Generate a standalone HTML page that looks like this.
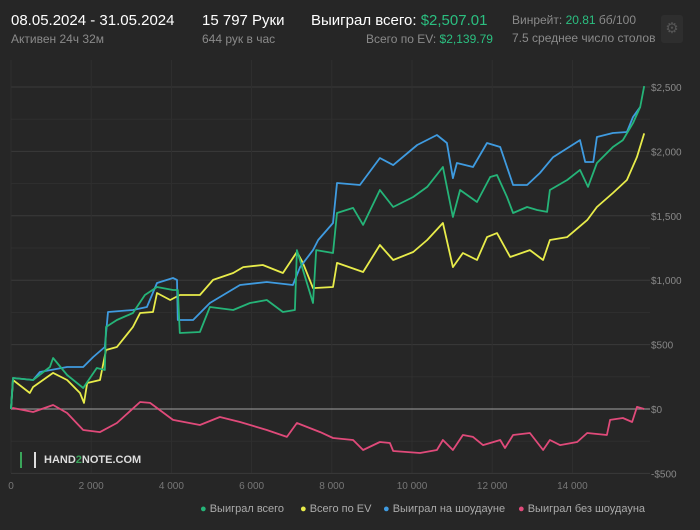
<!DOCTYPE html>
<html><head><meta charset="utf-8"><style>
body{margin:0;width:700px;height:530px;background:#262626;font-family:"Liberation Sans",sans-serif;overflow:hidden}
.t{position:absolute;white-space:nowrap}
</style></head><body>
<div style="position:absolute;left:0;top:0;width:700px;height:60px;">
<div class="t" style="left:11px;top:12px;color:#fff;font-size:15px">08.05.2024 - 31.05.2024</div>
<div class="t" style="left:11px;top:32px;color:#8a8a8a;font-size:12px">Активен 24ч 32м</div>
<div class="t" style="left:202px;top:12px;color:#fff;font-size:15px">15 797 Руки</div>
<div class="t" style="left:202px;top:32px;color:#8a8a8a;font-size:12px">644 рук в час</div>
<div class="t" style="left:311px;top:12px;color:#fff;font-size:15px">Выиграл всего: <span style="color:#2bbf80">$2,507.01</span></div>
<div class="t" style="left:366px;top:32px;color:#8a8a8a;font-size:12px">Всего по EV: <span style="color:#2bbf80">$2,139.79</span></div>
<div class="t" style="left:512px;top:13px;color:#8a8a8a;font-size:12px">Винрейт: <span style="color:#2bbf80">20.81</span> бб/100</div>
<div class="t" style="left:512px;top:31px;color:#8a8a8a;font-size:12px">7.5 среднее число столов</div>
<div style="position:absolute;left:661px;top:15px;width:22px;height:28px;background:#2e2e2e;border-radius:3px;color:#555;font-size:15px;text-align:center;line-height:28px">⚙</div>
</div>
<svg id="chart" width="700" height="530" style="position:absolute;left:0;top:0"></svg>
<div class="t" style="left:20px;top:452px;font-size:11px;font-weight:bold;color:#ddd"><span style="display:inline-block;width:12px;height:16px;border-left:2px solid #3aa55a;border-right:2px solid #ddd;vertical-align:middle;margin-right:8px"></span>HAND<span style="color:#3aa55a">2</span>NOTE.COM</div>
<div style="position:absolute;left:200px;top:503px;font-size:11px;color:#aaa">
<span class="t" style="left:0px"><span style="color:#25b478">●</span> Выиграл всего</span>
<span class="t" style="left:100px"><span style="color:#e8ec4a">●</span> Всего по EV</span>
<span class="t" style="left:183px"><span style="color:#3f9be0">●</span> Выиграл на шоудауне</span>
<span class="t" style="left:318px"><span style="color:#e04a7a">●</span> Выиграл без шоудауна</span>
</div>
<script>
const xTicks=[0,2000,4000,6000,8000,10000,12000,14000];
const yTicks=[-500,0,500,1000,1500,2000,2500];
const yTickLabels=["-$500","$0","$500","$1,000","$1,500","$2,000","$2,500"];
const greenHands=[0,50,550,970,1050,1400,1800,2140,2340,2370,2640,3040,3340,3640,4040,4160,4210,4710,4960,5540,5960,6380,6780,7080,7130,7530,7610,8030,8130,8530,8780,9200,9530,10030,10380,10770,11020,11200,11620,11950,12120,12370,12520,12870,13120,13370,13440,13870,14190,14390,14610,15010,15260,15510,15690,15790];
const greenValues=[0,241,225,326,396,264,163,318,303,637,691,745,885,947,924,924,590,598,792,769,823,846,753,769,1234,823,1234,1211,1522,1561,1429,1700,1568,1646,1724,1879,1491,1700,1607,1801,1817,1646,1522,1568,1545,1530,1700,1778,1856,1724,1910,2034,2088,2220,2345,2507];
const blueHands=[0,50,550,720,1400,1800,2050,2340,2420,3040,3390,3640,4040,4140,4160,4540,4960,5710,6380,7030,7210,7530,7660,8030,8130,8700,9200,9530,10130,10620,10870,11020,11120,11520,11870,12200,12520,12870,13190,13520,14190,14320,14520,14610,15010,15360,15510,15690];
const blueValues=[0,241,225,287,326,326,404,481,753,769,792,978,1017,1002,691,691,823,963,986,963,1102,1234,1312,1444,1755,1739,1949,1894,2050,2127,2065,1793,1910,1879,2065,2034,1739,1739,1832,1956,2088,1918,1918,2112,2143,2151,2267,2345];
const yellowHands=[0,50,470,550,1050,1400,1720,1820,1900,2220,2370,2640,3040,3220,3540,3640,3970,4210,4710,5040,5540,5790,6280,6780,7130,7280,7530,8030,8130,8780,9200,9530,10030,10380,10770,11020,11270,11620,11870,12120,12450,12940,13270,13440,13870,14370,14610,15010,15360,15610,15790];
const yellowValues=[0,225,124,171,280,225,124,47,202,225,458,481,637,745,753,901,846,885,885,1002,1056,1102,1118,1056,1219,1134,939,947,1134,1064,1273,1157,1219,1312,1444,1102,1211,1157,1335,1366,1180,1234,1157,1312,1335,1467,1568,1677,1778,1957,2140];
const redHands=[0,50,550,1050,1400,1800,2220,2640,3220,3470,4040,4710,5210,5710,6380,6880,7130,7710,8030,8530,8780,9200,9450,9530,10200,10620,10770,11020,11270,11520,11770,12200,12320,12520,12940,13270,13440,13690,14120,14370,14860,14940,15260,15490,15610,15790];
const redValues=[0,8,-23,31,-31,-163,-179,-109,54,47,-85,-124,-62,-101,-163,-217,-109,-179,-225,-241,-318,-256,-264,-326,-342,-318,-241,-318,-202,-217,-280,-241,-303,-202,-186,-318,-241,-280,-256,-186,-202,-85,-70,-101,16,0];

const NS="http://www.w3.org/2000/svg";
const svg=document.getElementById('chart');
const X0=11,XS=0.0401,Y0=409,YS=0.1288;
function sx(h){return X0+h*XS;}
function sy(v){return Y0-v*YS;}
function mk(tag,attrs){const e=document.createElementNS(NS,tag);for(const k in attrs)e.setAttribute(k,attrs[k]);svg.appendChild(e);return e;}
// minor grid
for(let v=-500;v<=2500;v+=250){
  const g=mk('line',{x1:11,x2:650,y1:sy(v),y2:sy(v),stroke:v%500===0?'#3a3a3a':'#2f2f2f','stroke-width':1});
  
  
}
xTicks.forEach(h=>{
  const g=mk('line',{x1:sx(h),x2:sx(h),y1:60,y2:473,stroke:'#2f2f2f','stroke-width':1});
  
  
  const t=mk('text',{x:sx(h),y:489,fill:'#777','font-size':10,'text-anchor':'middle','font-family':'Liberation Sans, sans-serif'});
  t.textContent=h===0?'0':(h/1000)+' 000';
  
  
});
yTicks.forEach((v,i)=>{
  const t=mk('text',{x:651,y:sy(v)+4,fill:'#888','font-size':10,'font-family':'Liberation Sans, sans-serif'});
  t.textContent=yTickLabels[i];
  
  
});
const z=mk('line',{x1:11,x2:650,y1:sy(0),y2:sy(0),stroke:'#8a8a8a','stroke-width':1.2});


function series(hs,vs,color,name){
  const d=hs.map((h,i)=>(i?'L':'M')+sx(h).toFixed(1)+','+sy(vs[i]).toFixed(1)).join(' ');
  const p=mk('path',{d:d,fill:'none',stroke:color,'stroke-width':1.8,'stroke-linejoin':'round'});
  
  
}
series(redHands,redValues,'#e04a7a','line-non-showdown');
series(yellowHands,yellowValues,'#e8ec4a','line-ev');
series(blueHands,blueValues,'#3f9be0','line-showdown');
series(greenHands,greenValues,'#25b478','line-total');
</script>
</body></html>
